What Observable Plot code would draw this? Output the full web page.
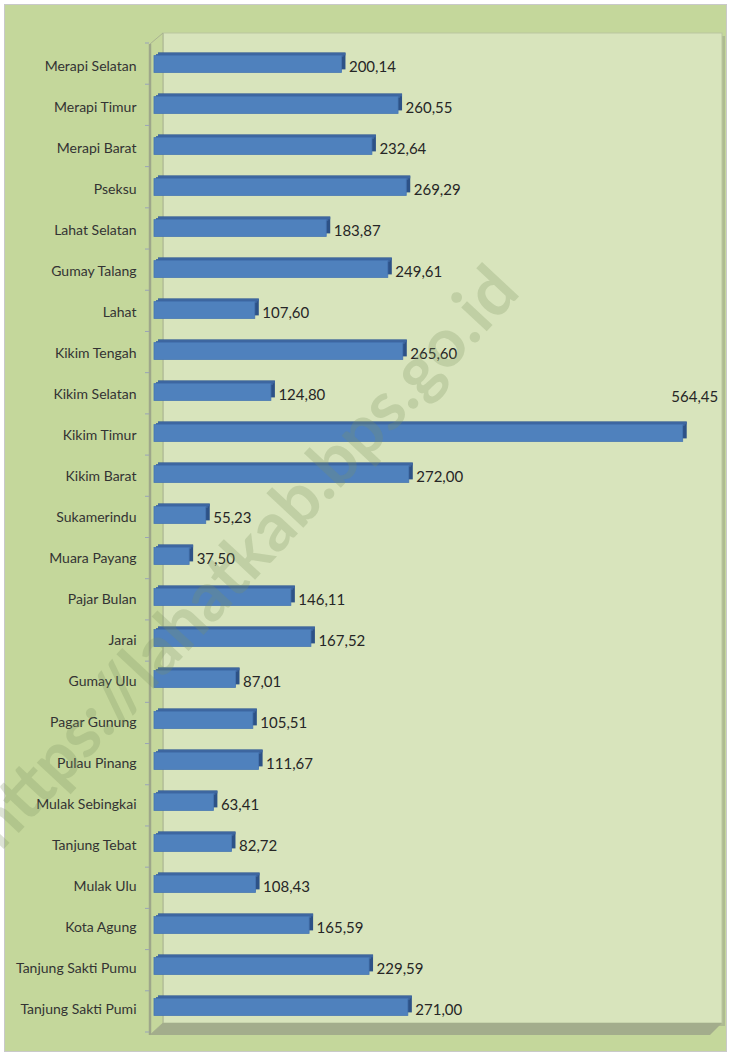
<!DOCTYPE html>
<html><head><meta charset="utf-8">
<script src="https://cdn.jsdelivr.net/npm/d3@7"></script>
<script src="https://cdn.jsdelivr.net/npm/@observablehq/plot@0.6"></script>
<style>body{margin:0;background:#fff}#chart svg{display:block}</style>
</head><body><div id="chart"></div>
<script>
const categories = ["Merapi Selatan","Merapi Timur","Merapi Barat","Pseksu","Lahat Selatan","Gumay Talang","Lahat","Kikim Tengah","Kikim Selatan","Kikim Timur","Kikim Barat","Sukamerindu","Muara Payang","Pajar Bulan","Jarai","Gumay Ulu","Pagar Gunung","Pulau Pinang","Mulak Sebingkai","Tanjung Tebat","Mulak Ulu","Kota Agung","Tanjung Sakti Pumu","Tanjung Sakti Pumi"];
const values = [200.14,260.55,232.64,269.29,183.87,249.61,107.60,265.60,124.80,564.45,272.00,55.23,37.50,146.11,167.52,87.01,105.51,111.67,63.41,82.72,108.43,165.59,229.59,271.00];
const axisMax = 600;
const watermark = "https://lahatkab.bps.go.id";

const fmt = v => d3.format(".2f")(v).replace(".", ",");
const data = categories.map((name, i) => ({name, value: values[i], label: fmt(values[i])}));
const maxValue = d3.max(values);
const normal = data.filter(d => d.value !== maxValue);
const biggest = data.filter(d => d.value === maxValue);

function decor(index, scales, values, dims) {
  const {width, height, marginLeft, marginRight, marginTop, marginBottom} = dims;
  const g = d3.create("svg:g");
  g.append("rect").attr("x", 4.5).attr("y", 4.5).attr("width", width - 9).attr("height", height - 9)
    .attr("fill", "#c4d79b").attr("stroke", "#c9c9c9");
  const fx = marginLeft - 4, bx = marginLeft + 9;
  const br = width - marginRight + 6;
  const topY = marginTop - 10, fy = height - marginBottom + 3, by = fy - 12;
  g.append("rect").attr("x", bx + 3).attr("y", topY + 3).attr("width", br - bx).attr("height", by - topY)
    .attr("fill", "#aebb92");
  g.append("rect").attr("x", bx).attr("y", topY).attr("width", br - bx).attr("height", by - topY)
    .attr("fill", "#d8e4bc").attr("stroke", "#b9c69f").attr("stroke-width", 1);
  g.append("path").attr("d", `M${fx},${topY + 11}L${bx},${topY}L${bx},${by}L${fx},${fy}Z`)
    .attr("fill", "#c5d79c").attr("stroke", "#a9b391").attr("stroke-width", 1);
  g.append("line").attr("x1", fx).attr("x2", fx).attr("y1", topY + 11).attr("y2", fy)
    .attr("stroke", "#9ea78a").attr("stroke-width", 2.5);
  g.append("path").attr("d", `M${bx},${by}L${br},${by}L${br - 12},${fy}L${fx},${fy}Z`)
    .attr("fill", "#a3ad8c");
  const n = categories.length, step = (height - marginTop - marginBottom) / n;
  for (let i = 0; i <= n; i++) {
    const y = marginTop + i * step;
    g.append("line").attr("x1", fx - 5).attr("x2", fx - 1).attr("y1", y).attr("y2", y)
      .attr("stroke", "#9aa3b8").attr("stroke-width", 1);
  }
  return g.node();
}

const bw = 41.21;
const chart = Plot.plot({
  width: 731,
  height: 1056,
  marginLeft: 154,
  marginRight: 15,
  marginTop: 43,
  marginBottom: 24,
  style: {fontFamily: "Lato", fontSize: "14px", background: "transparent"},
  x: {domain: [0, axisMax], axis: null},
  y: {domain: categories, padding: 0, axis: null},
  marks: [
    decor,
    Plot.barX(data, {x: "value", y: "name", fill: "#2d5287", insetTop: 9.6, insetBottom: 14.6, dx: 4, dy: -3}),
    Plot.barX(data, {x: "value", y: "name", fill: "#3e67a0", insetTop: 9.6, insetBottom: bw - 12.6, dx: 4, dy: -3}),
    Plot.barX(data, {x: "value", y: "name", fill: "#3e67a0", insetTop: 9.6, insetBottom: bw - 12.6, dx: 2, dy: -1.5}),
    Plot.barX(data, {x: "value", y: "name", fill: "#4f81bd", stroke: "#4676b2", strokeWidth: 0.8, insetTop: 9.6, insetBottom: 14.6}),
    Plot.axisY({tickSize: 0, tickPadding: 18, fontSize: 14, fontFamily: "Lato", color: "#333333", label: null}),
    Plot.text(normal, {x: "value", y: "name", text: "label", textAnchor: "start", dx: 7, fontSize: 15, fontFamily: "Lato", fill: "#262626"}),
    Plot.text(biggest, {x: "value", y: "name", text: "label", textAnchor: "end", dx: 35, dy: -39, fontSize: 15, fontFamily: "Lato", fill: "#262626"}),
    Plot.text([watermark], {frameAnchor: "middle", text: d => d, dx: -190, dy: 20, rotate: -47, fontSize: 68, fontWeight: "bold", fontFamily: "Lato", fill: "#7a9160", fillOpacity: 0.26})
  ]
});
document.getElementById("chart").appendChild(chart);
</script>
</body></html>
